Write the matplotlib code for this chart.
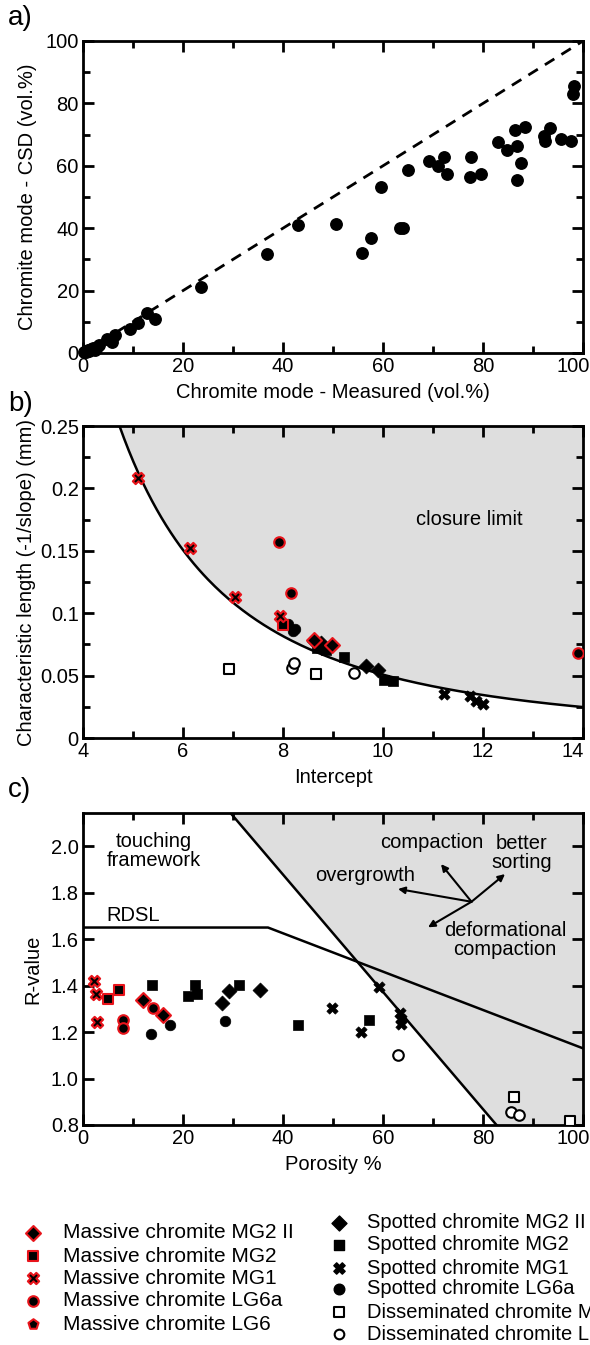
import numpy as np
import matplotlib
matplotlib.use("Agg")
import matplotlib.pyplot as plt
from matplotlib.ticker import MultipleLocator, FormatStrFormatter
from matplotlib.transforms import ScaledTranslation

plt.rcParams["font.family"] = ["Liberation Sans", "DejaVu Sans"]
plt.rcParams["axes.linewidth"] = 2.0

# ---- panel a: chromite mode, measured vs CSD ----
a_measured = [0.2, 0.5, 0.8, 1.0, 1.2, 1.5, 2.0, 2.3, 2.8, 3.2, 4.7, 5.4, 5.7, 6.3,
              9.3, 11.0, 12.8, 14.3, 23.6, 36.8, 42.9, 50.5, 55.8, 57.5, 59.6, 63.3,
              63.9, 64.9, 69.2, 70.9, 72.2, 72.8, 77.3, 77.5, 79.6, 83.0, 84.7, 86.4,
              86.8, 86.8, 87.5, 88.3, 92.1, 92.4, 93.4, 95.6, 97.6, 97.9, 98.1]
a_csd = [0.2, 0.4, 0.7, 1.0, 0.6, 1.3, 1.5, 1.0, 2.0, 2.5, 4.4, 4.2, 3.6, 5.8,
         7.6, 9.7, 12.7, 10.8, 21.1, 31.7, 41.0, 41.3, 32.1, 36.7, 53.2, 40.1,
         40.1, 58.7, 61.4, 59.9, 62.8, 57.4, 56.4, 62.8, 57.4, 67.6, 65.1, 71.5,
         66.5, 55.6, 61.0, 72.3, 69.4, 68.1, 72.0, 68.6, 67.8, 83.0, 85.6]

# ---- groups shared by panels b, c and legend ----
massive_names = ["Massive chromite MG2 II", "Massive chromite MG2", "Massive chromite MG1",
                 "Massive chromite LG6a", "Massive chromite LG6"]
massive_markers = ["D", "s", "X", "o", "p"]
spotted_names = ["Spotted chromite MG2 II", "Spotted chromite MG2", "Spotted chromite MG1",
                 "Spotted chromite LG6a"]
spotted_markers = ["D", "s", "X", "o"]
dissem_names = ["Disseminated chromite MG2", "Disseminated chromite LG6a"]
dissem_markers = ["s", "o"]

# ---- panel b: intercept vs characteristic length ----
b_massive_x = [[8.61, 8.98], [8.0], [5.10, 6.13, 7.04, 7.93], [7.91, 8.16, 13.9], []]
b_massive_y = [[0.0787, 0.0745], [0.0907], [0.208, 0.152, 0.1126, 0.098], [0.157, 0.116, 0.068], []]
b_spotted_x = [[8.62, 8.75, 9.66, 9.9], [8.68, 8.85, 9.22, 10.03, 10.2], [11.22, 11.73, 11.86, 12.0],
               [8.1, 8.24, 8.2]]
b_spotted_y = [[0.078, 0.076, 0.0573, 0.0547], [0.072, 0.0707, 0.0653, 0.0467, 0.0459],
               [0.0355, 0.0333, 0.0293, 0.0275], [0.0915, 0.0872, 0.086]]
b_dissem_x = [[6.92, 8.66], [8.17, 8.22, 9.41]]
b_dissem_y = [[0.0555, 0.0515], [0.056, 0.060, 0.052]]
closure_x0, closure_y0, closure_exp = 4.73, 0.25, 2.13

# ---- panel c: porosity vs R-value ----
c_massive_x = [[11.9, 15.9], [4.9, 7.2], [2.1, 2.5, 2.7], [8.0, 8.0, 13.9], []]
c_massive_y = [[1.34, 1.275], [1.343, 1.383], [1.42, 1.365, 1.245], [1.253, 1.219, 1.305], []]
c_spotted_x = [[27.7, 29.2, 35.4], [13.8, 20.9, 22.4, 22.8, 31.1, 42.9, 57.2],
               [49.8, 55.5, 59.1, 63.4, 63.5, 63.6], [13.6, 17.3, 28.3]]
c_spotted_y = [[1.325, 1.376, 1.383], [1.404, 1.354, 1.404, 1.366, 1.404, 1.23, 1.25],
               [1.303, 1.2, 1.394, 1.283, 1.257, 1.236], [1.19, 1.229, 1.247]]
c_dissem_x = [[86.2, 97.4], [62.9, 85.6, 87.1]]
c_dissem_y = [[0.921, 0.819], [1.103, 0.857, 0.843]]
rdsl_x = [0, 37, 100]
rdsl_y = [1.65, 1.65, 1.13]
limit_x = [29.5, 82.7]
limit_y = [2.143, 0.8]

a_xticks = [0, 20, 40, 60, 80, 100]
b_xticks = [4, 6, 8, 10, 12, 14]
c_xticks = [0, 20, 40, 60, 80, 100]

RED = "#e8141b"
GRAY = "#dedede"
FS = 14.5
LFS = 15
MS = 58


def style_axes(ax, xticks):
    ax.set_xticks(xticks)
    ax.tick_params(which="both", direction="in", top=True, right=True, width=2,
                   labelsize=FS, pad=3)
    ax.tick_params(which="major", length=8)
    ax.tick_params(which="minor", length=5)
    # pull the last x tick label in so it stays inside the figure
    last = ax.get_xticklabels()[-1]
    last.set_transform(last.get_transform() + ScaledTranslation(-0.1, 0, fig.dpi_scale_trans))


def draw_groups(ax, mx, my, sx, sy, dx, dy):
    for xs, ys, m in zip(sx, sy, spotted_markers):
        ax.scatter(xs, ys, marker=m, s=MS if m != "X" else 66, c="black",
                   edgecolors="black", linewidths=0.5, zorder=3)
    for xs, ys, m in zip(mx, my, massive_markers):
        ax.scatter(xs, ys, marker=m, s=MS if m != "X" else 66, c="black",
                   edgecolors=RED, linewidths=1.5, zorder=4)
    for xs, ys, m in zip(dx, dy, dissem_markers):
        ax.scatter(xs, ys, marker=m, s=MS, facecolors="white",
                   edgecolors="black", linewidths=1.5, zorder=3)


fig = plt.figure(figsize=(5.9, 13.45), dpi=100)
left, width = 83 / 590, 500 / 590
hgt = 312 / 1345

# panel a
ax = fig.add_axes([left, (1345 - 353) / 1345, width, hgt])
ax.plot([0, 100], [0, 100], color="black", lw=2, ls=(0, (4, 3)))
ax.scatter(a_measured, a_csd, s=MS + 10, c="black", zorder=3, clip_on=False)
ax.set_xlim(0, 100)
ax.set_ylim(0, 100)
ax.xaxis.set_minor_locator(MultipleLocator(10))
ax.yaxis.set_major_locator(MultipleLocator(20))
ax.yaxis.set_minor_locator(MultipleLocator(10))
style_axes(ax, a_xticks)
ax.set_xlabel("Chromite mode - Measured (vol.%)", fontsize=FS, labelpad=5)
ax.set_ylabel("Chromite mode - CSD (vol.%)", fontsize=FS, labelpad=6)
fig.text(8 / 590, 1 - 18 / 1345, "a)", fontsize=20, va="center")

# panel b
ax = fig.add_axes([left, (1345 - 738) / 1345, width, hgt])
cx = np.linspace(closure_x0, 14, 200)
cy = closure_y0 * (closure_x0 / cx) ** closure_exp
ax.fill_between(cx, cy, 0.25, color=GRAY, lw=0, zorder=0)
ax.plot(cx, cy, color="black", lw=1.8, zorder=2)
draw_groups(ax, b_massive_x, b_massive_y, b_spotted_x, b_spotted_y, b_dissem_x, b_dissem_y)
ax.text(11.72, 0.175, "closure limit", fontsize=FS, ha="center", va="center")
ax.set_xlim(4, 14)
ax.set_ylim(0, 0.25)
ax.xaxis.set_minor_locator(MultipleLocator(1))
ax.yaxis.set_major_locator(MultipleLocator(0.05))
ax.yaxis.set_minor_locator(MultipleLocator(0.025))
ax.yaxis.set_major_formatter(plt.FuncFormatter(lambda v, p: ("%g" % round(v, 3))))
style_axes(ax, b_xticks)
ax.set_xlabel("Intercept", fontsize=FS, labelpad=5)
ax.set_ylabel("Characteristic length (-1/slope) (mm)", fontsize=FS, labelpad=3)
fig.text(8 / 590, 1 - 404 / 1345, "b)", fontsize=20, va="center")

# panel c
ax = fig.add_axes([left, (1345 - 1125) / 1345, width, hgt])
ax.fill([limit_x[0], 100, 100, limit_x[1]], [limit_y[0], limit_y[0], limit_y[1], limit_y[1]],
        color=GRAY, lw=0, zorder=0)
ax.plot(limit_x, limit_y, color="black", lw=1.8, zorder=2)
ax.plot(rdsl_x, rdsl_y, color="black", lw=1.8, zorder=2)
draw_groups(ax, c_massive_x, c_massive_y, c_spotted_x, c_spotted_y, c_dissem_x, c_dissem_y)
ax.text(14.1, 1.98, "touching\nframework", fontsize=FS, ha="center", va="center",
        linespacing=1.0)
ax.text(4.7, 1.70, "RDSL", fontsize=FS, ha="left", va="center")
ax.text(69.8, 2.014, "compaction", fontsize=FS, ha="center", va="center")
ax.text(87.8, 1.97, "better\nsorting", fontsize=FS, ha="center", va="center", linespacing=1.0)
ax.text(56.4, 1.876, "overgrowth", fontsize=FS, ha="center", va="center")
ax.text(84.4, 1.597, "deformational\ncompaction", fontsize=FS, ha="center", va="center",
        linespacing=1.0)
origin = (77.7, 1.761)
for tip in [(63.0, 1.816), (71.6, 1.923), (84.4, 1.88), (69.0, 1.651)]:
    ax.annotate("", xy=tip, xytext=origin,
                arrowprops=dict(arrowstyle="-|>", color="black", lw=1.5,
                                mutation_scale=10, shrinkA=0, shrinkB=0))
ax.set_xlim(0, 100)
ax.set_ylim(0.8, 2.143)
ax.xaxis.set_minor_locator(MultipleLocator(10))
ax.yaxis.set_major_locator(MultipleLocator(0.2))
ax.yaxis.set_major_formatter(FormatStrFormatter("%.1f"))
style_axes(ax, c_xticks)
ax.set_xlabel("Porosity %", fontsize=FS, labelpad=5)
ax.set_ylabel("R-value", fontsize=FS, labelpad=6)
fig.text(8 / 590, 1 - 790 / 1345, "c)", fontsize=20, va="center")

# legend, laid out in pixel coordinates
lg = fig.add_axes([0, 0, 1, 1], zorder=-1)
lg.set_xlim(0, 590)
lg.set_ylim(1345, 0)
lg.axis("off")
rows_left = [1233, 1256, 1278, 1301, 1324]
for y, name, m in zip(rows_left, massive_names, massive_markers):
    lg.scatter([33], [y], marker=m, s=MS if m != "X" else 66, c="black",
               edgecolors=RED, linewidths=1.5)
    lg.text(63, y, name, fontsize=LFS, va="center", ha="left")
rows_right = [1223, 1245, 1268, 1289, 1312, 1334]
right_markers = spotted_markers + dissem_markers
right_names = spotted_names + dissem_names
for i, (y, name, m) in enumerate(zip(rows_right, right_names, right_markers)):
    if i < len(spotted_markers):
        lg.scatter([339], [y], marker=m, s=MS if m != "X" else 66, c="black")
    else:
        lg.scatter([339], [y], marker=m, s=MS - 10, facecolors="white",
                   edgecolors="black", linewidths=1.5)
    lg.text(367, y, name, fontsize=LFS - 0.5, va="center", ha="left", clip_on=False)

fig.savefig("out.png", dpi=100)
